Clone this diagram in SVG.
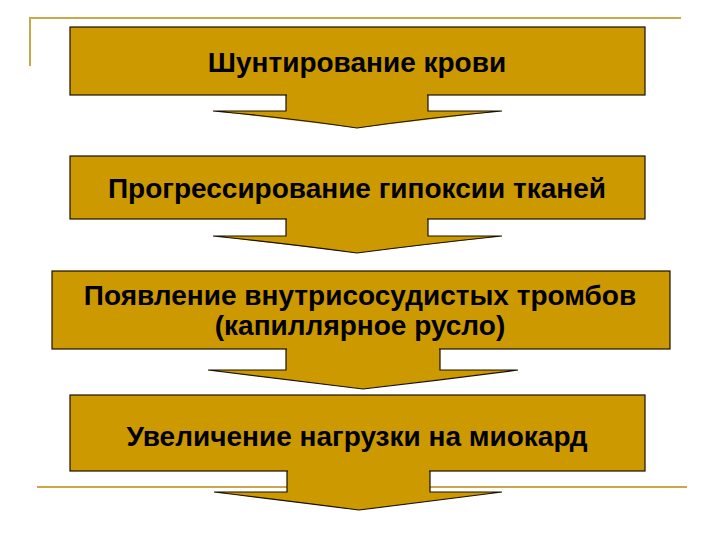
<svg xmlns="http://www.w3.org/2000/svg" width="720" height="540" viewBox="0 0 720 540">
<style>
.box{fill:#CC9900;stroke:#1a1000;stroke-width:1.2}
.af{fill:#CC9900;stroke:none}
.ae{fill:none;stroke:#1a1000;stroke-width:1.2}
.deco{stroke:#C9A84C;stroke-width:2;fill:none}
text{font-family:"Liberation Sans",Arial,sans-serif;font-weight:bold;font-size:28px;fill:#000;text-anchor:middle}
</style>
<rect width="720" height="540" fill="#fff"/>
<g id="decor">
<path class="deco" d="M30,66 V18 H681"/>
<path class="deco" d="M37,487 H687"/>
</g>
<g id="connectors">
<g id="a1"><path class="af" d="M286,94 V111 H213 L357,128 L502,111 H428 V94 Z"/><path class="ae" d="M286,95 V111 H213 Q290,118 357,128 Q425,118 502,111 H428 V95"/></g>
<g id="a2"><path class="af" d="M286,218 V236 H213 L357,253 L502,236 H428 V218 Z"/><path class="ae" d="M286,219 V236 H213 Q290,244 357,253 Q425,244 502,236 H428 V219"/></g>
<g id="a3"><path class="af" d="M286,348 V370 H208 L363,389 L518,370 H440 V348 Z"/><path class="ae" d="M286,349 V370 H208 Q290,380 363,389 Q440,380 518,370 H440 V349"/></g>
<g id="a4"><path class="af" d="M287,470 V492 H214 L359,510 L502,492 H430 V470 Z"/><path class="ae" d="M287,471 V492 H214 Q290,501 359,510 Q430,501 502,492 H430 V471"/></g>
</g>
<g id="n1"><rect class="box" x="70" y="27" width="575" height="68"/><text x="357" y="72">Шунтирование крови</text></g>
<g id="n2"><rect class="box" x="70" y="156" width="575" height="63"/><text x="357" y="198">Прогрессирование гипоксии тканей</text></g>
<g id="n3"><rect class="box" x="52" y="271" width="618" height="78"/><text x="360" y="305">Появление внутрисосудистых тромбов</text><text x="360" y="335">(капиллярное русло)</text></g>
<g id="n4"><rect class="box" x="70" y="395" width="575" height="76"/><text x="357" y="446">Увеличение нагрузки на миокард</text></g>
<g id="fix">
<path class="af" d="M287,94 H427 V97 H287 Z"/>
<path class="af" d="M287,218 H427 V221 H287 Z"/>
<path class="af" d="M287,348 H439 V351 H287 Z"/>
<path class="af" d="M288,470 H429 V473 H288 Z"/>
</g>
</svg>
